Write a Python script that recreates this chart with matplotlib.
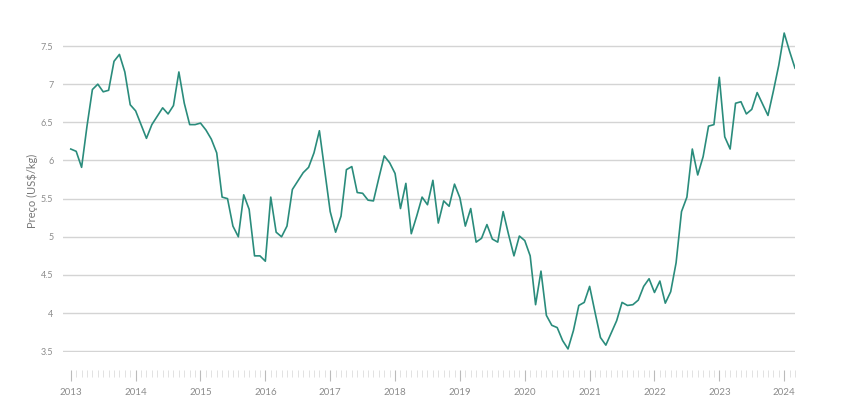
import matplotlib
matplotlib.use("Agg")
import matplotlib.pyplot as plt
from matplotlib.ticker import FixedLocator, FuncFormatter

# monthly price, Jan 2013 .. Mar 2024
start_year = 2013
prices = [
    6.15, 6.12, 5.91, 6.45, 6.93, 7.00, 6.90, 6.92, 7.30, 7.39, 7.16, 6.73,
    6.65, 6.47, 6.29, 6.47, 6.58, 6.69, 6.61, 6.72, 7.16, 6.75, 6.47, 6.47,
    6.49, 6.40, 6.28, 6.10, 5.52, 5.50, 5.14, 5.00, 5.55, 5.36, 4.75, 4.75,
    4.68, 5.52, 5.06, 5.00, 5.14, 5.62, 5.73, 5.84, 5.91, 6.10, 6.39, 5.86,
    5.33, 5.06, 5.27, 5.88, 5.92, 5.58, 5.57, 5.48, 5.47, 5.77, 6.06, 5.97,
    5.83, 5.37, 5.70, 5.04, 5.27, 5.52, 5.42, 5.74, 5.18, 5.47, 5.40, 5.69,
    5.51, 5.14, 5.37, 4.93, 4.98, 5.16, 4.97, 4.93, 5.33, 5.03, 4.75, 5.01,
    4.95, 4.75, 4.11, 4.55, 3.97, 3.84, 3.81, 3.64, 3.53, 3.77, 4.10, 4.14,
    4.35, 4.01, 3.68, 3.58, 3.74, 3.90, 4.14, 4.10, 4.11, 4.17, 4.35, 4.45,
    4.27, 4.42, 4.13, 4.28, 4.66, 5.33, 5.52, 6.15, 5.81, 6.05, 6.45, 6.47,
    7.09, 6.31, 6.15, 6.75, 6.77, 6.61, 6.67, 6.89, 6.74, 6.59, 6.91, 7.25,
    7.67, 7.43, 7.21,
]
years = list(range(2013, 2025))
y_ticks = [3.5, 4, 4.5, 5, 5.5, 6, 6.5, 7, 7.5]

x = [start_year + i / 12 for i in range(len(prices))]

plt.rcParams["font.family"] = ["Lato", "DejaVu Sans"]

fig = plt.figure(figsize=(8.41, 4.05), dpi=100)
ax = fig.add_axes([63 / 841, 53 / 405, 732 / 841, 322 / 405])

ax.plot(x, prices, color="#2a8c7c", linewidth=1.2)

ax.set_xlim(2012.88, x[-1])
ax.set_ylim(3.49, 7.71)

ax.set_yticks(y_ticks)
ax.yaxis.set_major_formatter(FuncFormatter(lambda v, p: f"{v:g}"))
ax.grid(axis="y", color="#d4d4d4", linewidth=1)
ax.set_axisbelow(True)
ax.tick_params(axis="y", length=0, pad=7, labelsize=6.5, labelcolor="#8c8c8c")

ax.xaxis.set_major_locator(FixedLocator(years))
ax.xaxis.set_minor_locator(FixedLocator([start_year + i / 12 for i in range(0, 12 * 11 + 3)]))
ax.xaxis.set_major_formatter(FuncFormatter(lambda v, p: f"{int(round(v))}"))
ax.tick_params(axis="x", which="major", length=8, width=0.8, color="#bbbbbb",
               labelsize=7, labelcolor="#8c8c8c", pad=5)
ax.tick_params(axis="x", which="minor", length=5, width=0.6, color="#dddddd")

for side in ["top", "right", "left"]:
    ax.spines[side].set_visible(False)
ax.spines["bottom"].set_position(("outward", 13))
ax.spines["bottom"].set_color("none")

ax.set_ylabel("Preço (US$/kg)", fontsize=8, color="#777777")
ax.yaxis.set_label_coords(-0.034, 0.5)

fig.savefig("out.png", dpi=100)
